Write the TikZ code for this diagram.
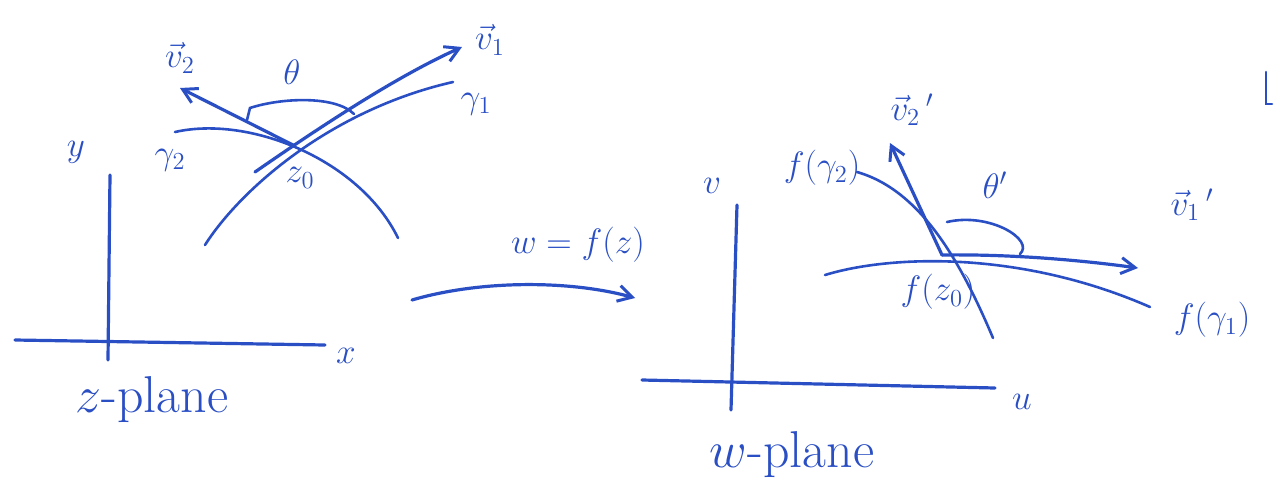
\documentclass[tikz,border=0pt]{standalone}
\usepackage{amsmath}
\usetikzlibrary{arrows.meta}
\definecolor{pen}{HTML}{2A4FC4}
\tikzset{
  ink/.style={draw=pen, line width=3.2pt, line cap=round, line join=round},
  thin ink/.style={draw=pen, line width=2.6pt, line cap=round},
  vec/.style={ink, -{Straight Barb[length=14pt, width=16pt, line width=3pt]}},
  lbl/.style={text=pen, inner sep=0pt, font=\huge, scale=1.7},
  big/.style={text=pen, inner sep=0pt, font=\huge, scale=2.5},
}
\begin{document}
\begin{tikzpicture}[x=1pt, y=-1pt]
\useasboundingbox (0,0) rectangle (1274,496);

% ---------- z-plane ----------
\coordinate (xa) at (15,340);  \coordinate (xb) at (325,345);
\coordinate (ya) at (110,175); \coordinate (yb) at (108,360);
\draw[ink] (xa) -- (xb);
\draw[ink] (ya) -- (yb);
\node[lbl] (xl) at (346,356) {$x$};
\node[lbl] (yl) at (76,152) {$y$};
\node[big] (zp) at (152,400) {$z$-plane};

\coordinate (g1a) at (205,245); \coordinate (g1b) at (453,82);
\coordinate (g2a) at (175,132); \coordinate (g2b) at (398,238);
\draw[thin ink] (g1a) .. controls (240,190) and (330,110) .. (g1b);
\draw[thin ink] (g2a) .. controls (250,115) and (360,160) .. (g2b);
\node[lbl] (g1l) at (476,104) {$\gamma_1$};
\node[lbl] (g2l) at (170,160) {$\gamma_2$};
\node[lbl] (z0) at (300,178) {$z_0$};

\coordinate (v1s) at (255,172); \coordinate (v1t) at (462,47);
\coordinate (z0p) at (293,145); \coordinate (v2t) at (180,88);
\draw[vec] (v1s) .. controls (330,120) and (400,75) .. (v1t);
\draw[vec] (z0p) -- (v2t);
\node[lbl] (v1l) at (490,40) {$\vec{v}_1$};
\node[lbl] (v2l) at (180,58) {$\vec{v}_2$};

\coordinate (ta) at (247,120); \coordinate (tb) at (354,114);
\draw[thin ink] (ta) -- (250,108) .. controls (280,98) and (335,95) .. (tb);
\node[lbl] (th) at (292,72) {$\theta$};

% ---------- mapping ----------
\coordinate (ma) at (412,300); \coordinate (mb) at (635,298);
\draw[vec] (ma) .. controls (480,280) and (570,280) .. (mb);
\node[lbl] (map) at (578,245) {$w=f(z)$};

% ---------- w-plane ----------
\coordinate (ua) at (642,380); \coordinate (ub) at (995,388);
\coordinate (va) at (737,205); \coordinate (vb) at (731,410);
\draw[ink] (ua) -- (ub);
\draw[ink] (va) -- (vb);
\node[lbl] (ul) at (1022,402) {$u$};
\node[lbl] (vl) at (712,186) {$v$};
\node[big] (wp) at (792,455) {$w$-plane};

\coordinate (f1a) at (825,275); \coordinate (f1b) at (1150,307);
\coordinate (f2a) at (857,172); \coordinate (f2b) at (993,338);
\draw[thin ink] (f1a) .. controls (890,255) and (1020,250) .. (f1b);
\draw[thin ink] (f2a) .. controls (920,190) and (960,260) .. (f2b);
\node[lbl] (f1l) at (1212,320) {$f(\gamma_1)$};
\node[lbl] (f2l) at (822,168) {$f(\gamma_2)$};
\node[lbl] (fz0) at (938,292) {$f(z_0)$};

\coordinate (wp0) at (942,255);
\coordinate (v1pt) at (1138,268); \coordinate (v2pt) at (890,143);
\draw[vec] (wp0) .. controls (1010,254) and (1080,260) .. (v1pt);
\draw[vec] (wp0) -- (v2pt);
\node[lbl] (v1pl) at (1192,205) {$\vec{v}_1\,'$};
\node[lbl] (v2pl) at (912,110) {$\vec{v}_2\,'$};

\coordinate (tpa) at (947,222); \coordinate (tpb) at (1020,254);
\draw[thin ink] (tpa) .. controls (990,212) and (1035,240) .. (tpb);
\node[lbl] (thp) at (995,185) {$\theta'$};

% ---------- stray mark at right edge ----------
\coordinate (sa) at (1266,72); \coordinate (sb) at (1266,104);
\draw[thin ink] (sa) -- (sb) -- (1272,104);
\end{tikzpicture}
\end{document}
